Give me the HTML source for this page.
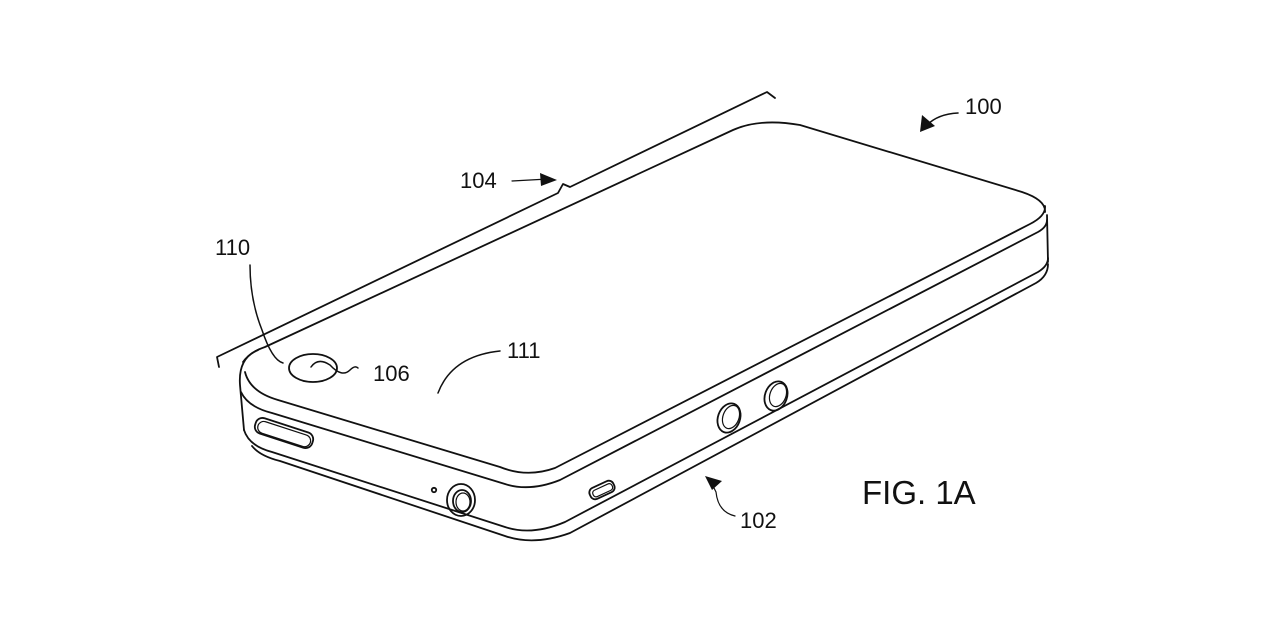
<!DOCTYPE html>
<html><head><meta charset="utf-8"><style>
html,body{margin:0;padding:0;background:#fff;}
svg{display:block;}
text{font-family:"Liberation Sans",Arial,sans-serif;fill:#111;}
</style></head><body>
<svg width="1280" height="642" viewBox="0 0 1280 642" xmlns="http://www.w3.org/2000/svg">
<g fill="none" stroke="#111" stroke-width="1.8" stroke-linecap="round" stroke-linejoin="round">
<!-- bracket 104 -->
<path d="M219,367 L217,357 L558,193 L563,184 L570,187 L767,92 L775,98"/>
<!-- top face outline -->
<path d="M243,362 Q250,352 265,347 L733,130 Q760,118 800,125 L1022,192 Q1046,200 1045,212"/>
<path d="M258,350 Q238,358 240,385 L244,430"/>
<!-- L1 top face near edge -->
<path d="M245,372 Q250,392 278,400 L500,467 Q527,478 555,468 L1030,224 Q1046,216 1045,206"/>
<!-- L2 -->
<path d="M241,392 Q248,407 272,413 L505,484 Q530,492 560,480 L1038,232 Q1047,227 1047,220"/>
<!-- right edge -->
<path d="M1047,215 L1048,262"/>
<!-- L3 -->
<path d="M244,430 Q249,446 272,452 L505,527 Q532,536 565,522 L1038,272 Q1048,266 1048,258"/>
<!-- L4 -->
<path d="M252,446 Q260,456 280,461 L505,536 Q534,546 570,533 L1036,283 Q1048,276 1048,264"/>
<!-- switch -->
<g transform="translate(284,433) rotate(18)">
<rect x="-30" y="-8" width="60" height="16" rx="7"/>
<rect x="-27" y="-5" width="55" height="12" rx="6" stroke-width="1.2"/>
</g>
<!-- jack -->
<ellipse cx="461" cy="500" rx="14" ry="16"/>
<ellipse cx="462" cy="501" rx="9" ry="11"/>
<ellipse cx="463" cy="502" rx="7" ry="9" stroke-width="1.2"/>
<circle cx="434" cy="490" r="2.2"/>
<!-- port -->
<g transform="translate(602,490) rotate(-25)">
<rect x="-13" y="-6" width="26" height="12" rx="5"/>
<rect x="-10" y="-3" width="21" height="7" rx="3" stroke-width="1.2"/>
</g>
<!-- buttons -->
<ellipse cx="729" cy="418" rx="11" ry="15" transform="rotate(20 729 418)"/>
<ellipse cx="731" cy="417" rx="8" ry="12" transform="rotate(20 731 417)" stroke-width="1.2"/>
<ellipse cx="776" cy="396" rx="11" ry="15" transform="rotate(20 776 396)"/>
<ellipse cx="778" cy="395" rx="8" ry="12" transform="rotate(20 778 395)" stroke-width="1.2"/>
<!-- camera 106 -->
<ellipse cx="313" cy="368" rx="24" ry="14"/>
<path d="M311,367 Q318,357 330,365 Q342,378 350,370 Q355,365 358,368" stroke-width="1.5"/>
<!-- 110 leader -->
<path d="M250,265 Q250,300 262,330 Q272,360 283,363" stroke-width="1.5"/>
<!-- 111 arc -->
<path d="M500,351 Q452,356 438,393" stroke-width="1.5"/>
<!-- 104 arrow -->
<path d="M512,181 L548,179" stroke-width="1.2"/>
<!-- 100 arrow -->
<path d="M958,113 Q938,114 927,125" stroke-width="1.5"/>
<!-- 102 leader -->
<path d="M735,516 Q718,512 716,492 L712,484" stroke-width="1.2"/>
</g>
<g fill="#111" stroke="none">
<polygon points="557,180 540,173 541,186"/>
<polygon points="920,132 922,115 935,126"/>
<polygon points="705,476 722,481 712,490"/>
</g>
<text x="460" y="188" font-size="22">104</text>
<text x="965" y="114" font-size="22">100</text>
<text x="215" y="255" font-size="22">110</text>
<text x="373" y="381" font-size="22">106</text>
<text x="507" y="358" font-size="22">111</text>
<text x="740" y="528" font-size="22">102</text>
<text x="862" y="504" font-size="33">FIG. 1A</text>
</svg>
</body></html>
